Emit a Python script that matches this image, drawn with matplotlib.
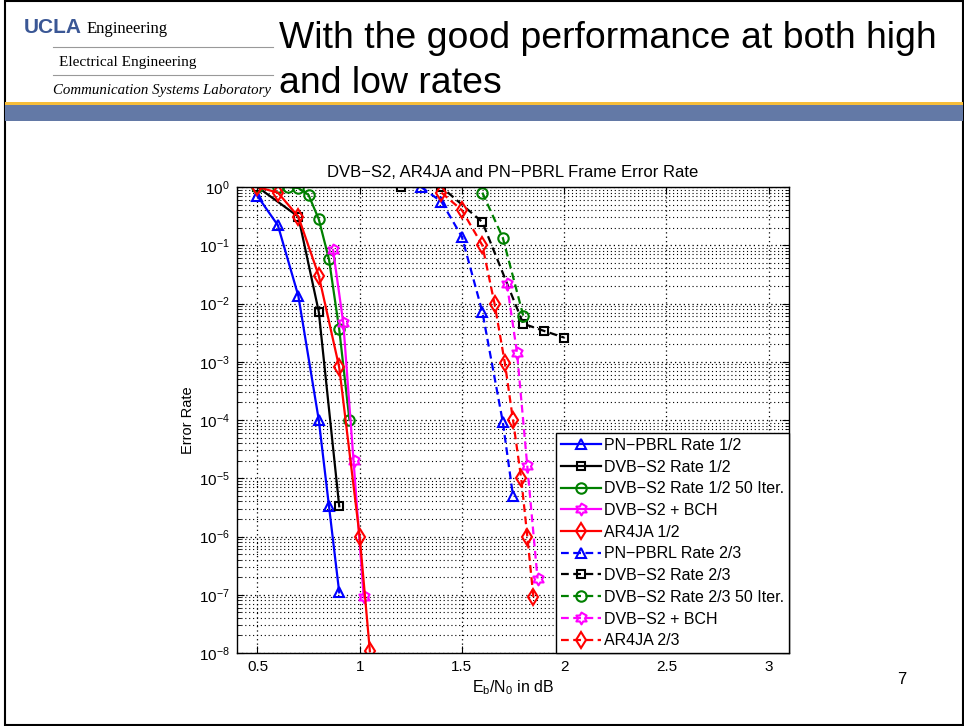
import numpy as np
import matplotlib
matplotlib.use('Agg')
import matplotlib.pyplot as plt
from matplotlib.path import Path
from matplotlib.lines import Line2D
from matplotlib.patches import Rectangle

plt.rcParams['font.family'] = ['Liberation Sans', 'DejaVu Sans']
plt.rcParams['mathtext.default'] = 'regular'

# rate 1/2 curves (solid)
pn12_x = [0.5, 0.6, 0.7, 0.8, 0.85, 0.9]
pn12_y = [0.7, 0.22, 0.0135, 1.0e-4, 3.3e-6, 1.1e-7]
dvb12_x = [0.5, 0.7, 0.8, 0.9]
dvb12_y = [1.0, 0.31, 0.0072, 3.3e-6]
dvb12i_x = [0.5, 0.6, 0.65, 0.7, 0.75, 0.8, 0.85, 0.9, 0.95]
dvb12i_y = [1.0, 1.0, 1.0, 0.96, 0.73, 0.28, 0.057, 0.0036, 1.0e-4]
bch12_x = [0.87, 0.92, 0.97, 1.02]
bch12_y = [0.083, 0.0046, 2.0e-5, 9.0e-8]
ar12_x = [0.5, 0.6, 0.7, 0.8, 0.9, 1.0, 1.05]
ar12_y = [1.0, 0.8, 0.31, 0.03, 8.0e-4, 1.0e-6, 1.07e-8]

# rate 2/3 curves (dashed)
pn23_x = [1.3, 1.4, 1.5, 1.6, 1.7, 1.75]
pn23_y = [1.0, 0.56, 0.14, 0.0072, 9.3e-5, 5.0e-6]
dvb23_x = [1.2, 1.4, 1.6, 1.8, 1.9, 2.0]
dvb23_y = [1.0, 1.0, 0.25, 0.0045, 0.0034, 0.0026]
dvb23i_x = [1.6, 1.7, 1.8]
dvb23i_y = [0.8, 0.135, 0.0062]
bch23_x = [1.72, 1.77, 1.82, 1.87]
bch23_y = [0.022, 0.0014, 1.6e-5, 1.9e-7]
ar23_x = [1.4, 1.5, 1.6, 1.66, 1.71, 1.75, 1.79, 1.82, 1.85]
ar23_y = [0.8, 0.4, 0.1, 0.0098, 9.6e-4, 1.0e-4, 1.0e-5, 1.0e-6, 9.0e-8]

labels = ['PN\u2212PBRL Rate 1/2', 'DVB\u2212S2 Rate 1/2', 'DVB\u2212S2 Rate 1/2 50 Iter.',
          'DVB\u2212S2 + BCH', 'AR4JA 1/2', 'PN\u2212PBRL Rate 2/3', 'DVB\u2212S2 Rate 2/3',
          'DVB\u2212S2 Rate 2/3 50 Iter.', 'DVB\u2212S2 + BCH', 'AR4JA 2/3']

# six-pointed star like MATLAB's hexagram
ang = np.pi / 2 + np.arange(12) * np.pi / 6
rad = np.where(np.arange(12) % 2 == 0, 1.0, 0.577)
star = Path(np.column_stack([rad * np.cos(ang), rad * np.sin(ang)]), closed=True)

W, H = 964, 726
fig = plt.figure(figsize=(W / 100, H / 100), dpi=100)

def fx(px):
    return px / W

def fy(py):
    return 1 - py / H

# slide decoration
fig.patches.append(Rectangle((fx(5), fy(725)), fx(958), 724 / H, transform=fig.transFigure,
                             fill=False, edgecolor='black', linewidth=1.5))
fig.patches.append(Rectangle((fx(5), fy(121)), fx(958), 16 / H, transform=fig.transFigure,
                             facecolor='#6379a6', edgecolor='none'))
fig.patches.append(Rectangle((fx(5), fy(105)), fx(958), 3.5 / H, transform=fig.transFigure,
                             facecolor='#f6bd3a', edgecolor='none'))
for ly in (47, 75):
    fig.lines.append(Line2D([fx(53), fx(273)], [fy(ly)] * 2, transform=fig.transFigure,
                            color='#999999', linewidth=0.8))
fig.text(fx(24), fy(33), 'UCLA', color='#3a5795', fontsize=15, fontweight='bold', va='baseline')
fig.text(fx(87), fy(33), 'Engineering', family='Liberation Serif', fontsize=12, va='baseline')
fig.text(fx(59), fy(66), 'Electrical Engineering', family='Liberation Serif', fontsize=11, va='baseline')
fig.text(fx(53), fy(94), 'Communication Systems Laboratory', family='Liberation Serif',
         style='italic', fontsize=10.7, va='baseline')
fig.text(fx(279), fy(48), 'With the good performance at both high', fontsize=26.9, va='baseline')
fig.text(fx(279), fy(93), 'and low rates', fontsize=26.9, va='baseline')
fig.text(fx(902), fy(680), '7', fontsize=12, ha='center', va='center')

ax = fig.add_axes([fx(237), fy(653), 552 / W, 466 / H])

series = [
    (pn12_x, pn12_y, 'blue', '^', '-'),
    (dvb12_x, dvb12_y, 'black', 's', '-'),
    (dvb12i_x, dvb12i_y, 'green', 'o', '-'),
    (bch12_x, bch12_y, 'magenta', star, '-'),
    (ar12_x, ar12_y, 'red', 'd', '-'),
    (pn23_x, pn23_y, 'blue', '^', '--'),
    (dvb23_x, dvb23_y, 'black', 's', '--'),
    (dvb23i_x, dvb23i_y, 'green', 'o', '--'),
    (bch23_x, bch23_y, 'magenta', star, '--'),
    (ar23_x, ar23_y, 'red', 'd', '--'),
]
sizes = {'^': 7.5, 's': 5.5, 'o': 7.5, 'd': 8.5}
for (x, y, c, m, ls), lab in zip(series, labels):
    ms = 8.5 if m is star else sizes[m]
    ax.plot(x, y, color=c, marker=m, linestyle=ls, linewidth=1.6, markersize=ms,
            markerfacecolor='none', markeredgewidth=1.5, label=lab,
            dashes=(3.5, 2) if ls == '--' else (None, None))

ax.set_yscale('log')
ax.set_xlim(0.4, 3.1)
ax.set_ylim(1e-8, 1)
ax.set_xticks([0.5, 1, 1.5, 2, 2.5, 3])
ax.set_xticklabels(['0.5', '1', '1.5', '2', '2.5', '3'])
ax.set_yticks([10.0 ** k for k in range(-8, 1)])
ax.grid(True, which='major', linestyle=(0, (1, 2.5)), color='black', linewidth=0.9)
ax.grid(True, which='minor', axis='y', linestyle=(0, (1, 2.5)), color='black', linewidth=0.8)
ax.tick_params(which='both', direction='in', top=True, right=True, labelsize=11)
ax.tick_params(which='major', length=5, pad=5)
ax.tick_params(which='minor', length=3)
for s in ax.spines.values():
    s.set_linewidth(1.0)

ax.set_title('DVB\u2212S2, AR4JA and PN\u2212PBRL Frame Error Rate', fontsize=12, pad=7)
ax.set_xlabel('E$_{b}$/N$_{0}$ in dB', fontsize=11.5, labelpad=3)
ax.set_ylabel('Error Rate', fontsize=10.5, labelpad=3)

leg = ax.legend(loc='lower right', fontsize=11.5, frameon=True, fancybox=False, framealpha=1,
                edgecolor='black', borderaxespad=0, handlelength=2.5, labelspacing=0.42,
                handletextpad=0.2, borderpad=0.3)
leg.get_frame().set_linewidth(1.0)

fig.savefig('out.png', dpi=100)
